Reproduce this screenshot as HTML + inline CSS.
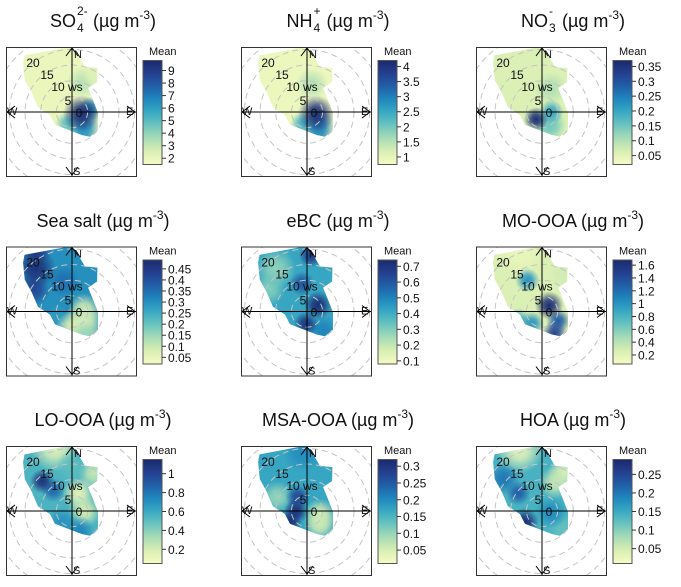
<!DOCTYPE html>
<html><head><meta charset="utf-8">
<style>
body{margin:0;background:#fff;width:681px;height:587px;overflow:hidden;position:relative;font-family:"Liberation Sans",sans-serif}
.title{position:absolute;font-size:18px;color:#111;white-space:nowrap;transform:translateX(-50%);line-height:22px}
.title sup{font-size:12px;vertical-align:8px;line-height:0}
.ss{position:relative;display:inline-block;width:12px;height:18px;vertical-align:top}
.ss .up{position:absolute;left:1px;top:-5px;font-size:12px;line-height:12px}
.ss .dn{position:absolute;left:1px;top:12px;font-size:12px;line-height:12px}
svg{position:absolute;left:0;top:0}
</style></head><body>
<svg id="chart" width="681" height="587"></svg>
<script>
// ---- data ----
const panelNames = ["so4","nh4","no3","sea-salt","ebc","mo-ooa","lo-ooa","msa-ooa","hoa"];
const titlesHtml = [
 'SO<span class="ss"><span class="up">2-</span><span class="dn">4</span></span> (µg m<sup>-3</sup>)',
 'NH<span class="ss" style="width:9px"><span class="up">+</span><span class="dn">4</span></span> (µg m<sup>-3</sup>)',
 'NO<span class="ss" style="width:9px"><span class="up">-</span><span class="dn">3</span></span> (µg m<sup>-3</sup>)',
 'Sea salt (µg m<sup>-3</sup>)','eBC (µg m<sup>-3</sup>)','MO-OOA (µg m<sup>-3</sup>)',
 'LO-OOA (µg m<sup>-3</sup>)','MSA-OOA (µg m<sup>-3</sup>)','HOA (µg m<sup>-3</sup>)'];
const scaleMin = [1.5,0.75,0.02,0.02,0.08,0.06,0.05,0.01,0.01];
const scaleMax = [9.8,4.2,0.37,0.49,0.74,1.68,1.15,0.32,0.29];
const tickLabels = [
 ["2","3","4","5","6","7","8","9"],
 ["1","1.5","2","2.5","3","3.5","4"],
 ["0.05","0.1","0.15","0.2","0.25","0.3","0.35"],
 ["0.05","0.1","0.15","0.2","0.25","0.3","0.35","0.4","0.45"],
 ["0.1","0.2","0.3","0.4","0.5","0.6","0.7"],
 ["0.2","0.4","0.6","0.8","1","1.2","1.4","1.6"],
 ["0.2","0.4","0.6","0.8","1"],
 ["0.05","0.1","0.15","0.2","0.25","0.3"],
 ["0.05","0.1","0.15","0.2","0.25"]];
const baseValues = [1.9,0.9,0.06,0.3,0.42,0.25,0.55,0.17,0.14];
// hotspots: [direction deg, wind speed, mean value, spread ws]
const hotspots = [
 [[20,10,3.2,4],[30,14,2.4,3],[200,4,5,3],[160,9,5.5,4],[140,6,6.5,4],[80,6,6.5,3],[100,3,9.6,4.5]],
 [[10,9,1.5,4],[200,4,2.4,3],[160,9,2.4,4],[140,6,3,4],[100,3,4.1,4.5]],
 [[20,8,0.1,4],[150,5,0.15,4],[90,3,0.2,3],[220,3,0.36,3]],
 [[250,5,0.28,3],[130,5,0.06,5],[180,5,0.08,4],[80,4,0.1,4],[150,9,0.15,4],[345,10,0.35,4],[300,14,0.42,4],[330,23,0.45,4],[320,18,0.47,5]],
 [[324,17,0.28,5],[300,14,0.3,4],[140,8,0.5,4],[350,9,0.6,3],[4,18,0.68,3],[185,4,0.7,3],[60,4,0.72,3.5]],
 [[340,20,0.15,6],[30,14,0.3,4],[250,8,0.8,3],[220,5,1.0,3],[335,11,1.0,3],[120,6,1.3,3],[150,8,1.45,3],[50,3,1.65,3.5]],
 [[345,21,0.15,6],[30,14,0.25,4],[20,6,0.15,4],[90,4,0.2,4],[0,14,0.5,4],[162,7,0.75,4],[220,5,0.7,4],[318,9,0.85,3],[315,13.5,1.1,3]],
 [[295,10.5,0.1,4],[107,4.3,0.05,4],[137,6,0.06,4],[356,19,0.2,5],[327,5.3,0.27,3],[270,3.5,0.31,3],[237,6.5,0.31,3]],
 [[340,21,0.03,6],[30,14,0.04,4],[25,10,0.06,4],[130,9,0.12,4],[100,3,0.18,4],[310,16,0.2,4],[307,9.5,0.22,3],[237,6.5,0.28,3.5]]];
// blob boundary [direction deg, wind speed]
const blobDir = [315,320,358,3,16,30,40,34,60,92,125,144,157,233,262,278,295,304];
const blobWs  = [22.1,23.6,20.8,19.8,15,16.2,12.5,9.2,7.7,8.3,10.1,9.8,8,6.8,7.1,11,14.1,18.2];
const ringWs = [5,10,15,20,25];

// ---- rendering ----
const NS="http://www.w3.org/2000/svg";
const svg=document.getElementById('chart');
const defs=document.createElementNS(NS,'defs');svg.appendChild(defs);
const pal=["#f6fbc4","#d9efb3","#a9dcb6","#6cc5be","#3aaac3","#1f88bd","#2160a8","#24408f","#1a2a6e"];
function hex(c){return [1,3,5].map(i=>parseInt(c.substr(i,2),16));}
function colorAt(t){t=Math.max(0,Math.min(1,t));const p=t*(pal.length-1);const i=Math.min(pal.length-2,Math.floor(p));const f=p-i;const a=hex(pal[i]),b=hex(pal[i+1]);return 'rgb('+a.map((v,k)=>Math.round(v+(b[k]-v)*f)).join(',')+')';}
const PX=3.13;
function mk(tag,attrs,parent){const e=document.createElementNS(NS,tag);for(const k in attrs)e.setAttribute(k,attrs[k]);(parent||svg).appendChild(e);return e;}
function polar(cx,cy,dir,ws){const a=dir*Math.PI/180;return [cx+Math.sin(a)*ws*PX,cy-Math.cos(a)*ws*PX];}
const lg=mk('linearGradient',{id:'cbgrad',x1:0,y1:1,x2:0,y2:0},defs);
pal.forEach((c,i)=>mk('stop',{offset:(i/(pal.length-1)),'stop-color':c},lg));
const colLeft=[6,241,476], rowTop=[47,246.5,446];
panelNames.forEach((name,p)=>{
 const bx=colLeft[p%3], by=rowTop[Math.floor(p/3)], bw=130, bh=129;
 const cx=bx+66, cy=by+65;
 const g=mk('g',{});
 
 
 const t=document.createElement('div');t.className='title';t.innerHTML=titlesHtml[p];
 t.style.left=(bx+97)+'px';t.style.top=(by-37)+'px';
 
 
 document.body.appendChild(t);
 const cp=mk('clipPath',{id:'box'+p},defs);mk('rect',{x:bx,y:by,width:bw,height:bh},cp);
 const bc=mk('clipPath',{id:'blob'+p},defs);
 let d='';blobDir.forEach((dd,i)=>{const [x,y]=polar(cx,cy,dd,blobWs[i]);d+=(i?'L':'M')+x.toFixed(1)+','+y.toFixed(1);});d+='Z';
 mk('path',{d:d},bc);
 const lo=scaleMin[p],hi=scaleMax[p];
 const norm=v=>(v-lo)/(hi-lo);
 const bg=mk('g',{'clip-path':'url(#blob'+p+')'},g);
 
 
 mk('rect',{x:bx,y:by,width:bw,height:bh,fill:colorAt(norm(baseValues[p]))},bg);
 hotspots[p].forEach((h,i)=>{
  const id='hs'+p+'_'+i;const col=colorAt(norm(h[2]));
  const rg=mk('radialGradient',{id:id},defs);
  mk('stop',{offset:0,'stop-color':col,'stop-opacity':1},rg);
  mk('stop',{offset:0.4,'stop-color':col,'stop-opacity':0.8},rg);
  mk('stop',{offset:1,'stop-color':col,'stop-opacity':0},rg);
  const [x,y]=polar(cx,cy,h[0],h[1]);
  const c=mk('circle',{cx:x,cy:y,r:h[3]*PX*1.3,fill:'url(#'+id+')'},bg);
  
  
 });
 const rg2=mk('g',{'clip-path':'url(#box'+p+')'},g);
 ringWs.forEach(r=>{const c=mk('circle',{cx:cx,cy:cy,r:r*PX,fill:'none',stroke:'#c4c4c4','stroke-width':1,'stroke-dasharray':'6,4'},rg2);
  
  });
 mk('line',{x1:bx,y1:cy,x2:bx+bw,y2:cy,stroke:'#000','stroke-width':1},g);
 mk('line',{x1:cx,y1:by,x2:cx,y2:by+bh,stroke:'#000','stroke-width':1},g);
 const ar=(pts)=>mk('polyline',{points:pts,fill:'none',stroke:'#000','stroke-width':1},g);
 ar(`${bx+9},${cy-6} ${bx+1},${cy} ${bx+9},${cy+6}`);
 ar(`${bx+bw-9},${cy-6} ${bx+bw-1},${cy} ${bx+bw-9},${cy+6}`);
 ar(`${cx-6},${by+9} ${cx},${by+1} ${cx+6},${by+9}`);
 ar(`${cx-6},${by+bh-9} ${cx},${by+bh-1} ${cx+6},${by+bh-9}`);
 const tx=(s,x,y,fs,anchor,nm)=>{const e=mk('text',{x:x,y:y,'font-size':fs,'text-anchor':anchor||'start',fill:'#111','font-family':'Liberation Sans, sans-serif'},g);e.textContent=s;
  
  return e;};
 tx('N',cx+2,by+11,11,'start','north-label');
 tx('S',cx+1,by+bh-1,11,'start','south-label');
 tx('W',bx+1,cy+3,11,'start','west-label');
 tx('E',bx+bw-10,cy+3,11,'start','east-label');
 tx('0',cx+7,cy+5,12,'middle','ring-label-0');
 tx('5',cx-4,cy-7,12,'middle','ring-label-5');
 tx('10 ws',cx-5,cy-21,12,'middle','ring-label-10');
 tx('15',cx-25,cy-33,12,'middle','ring-label-15');
 tx('20',cx-39,cy-45,12,'middle','ring-label-20');
 const br=mk('rect',{x:bx+0.5,y:by+0.5,width:bw,height:bh,fill:'none',stroke:'#333','stroke-width':1},g);
 
 
 const cbx=bx+137, cby=by+13.5, cbw=19, cbh=104;
 const cb=mk('rect',{x:cbx,y:cby,width:cbw,height:cbh,fill:'url(#cbgrad)',stroke:'#555','stroke-width':1},g);
 
 
 tx('Mean',cbx+6,by+8,11,'start','colorbar-title');
 tickLabels[p].forEach(l=>{const v=parseFloat(l);const y=cby+cbh*(1-norm(v));
  mk('line',{x1:cbx+cbw,y1:y,x2:cbx+cbw+4,y2:y,stroke:'#333','stroke-width':1},g);
  tx(l,cbx+cbw+6,y+4.5,12,'start','colorbar-tick');});
});
</script>
</body></html>
